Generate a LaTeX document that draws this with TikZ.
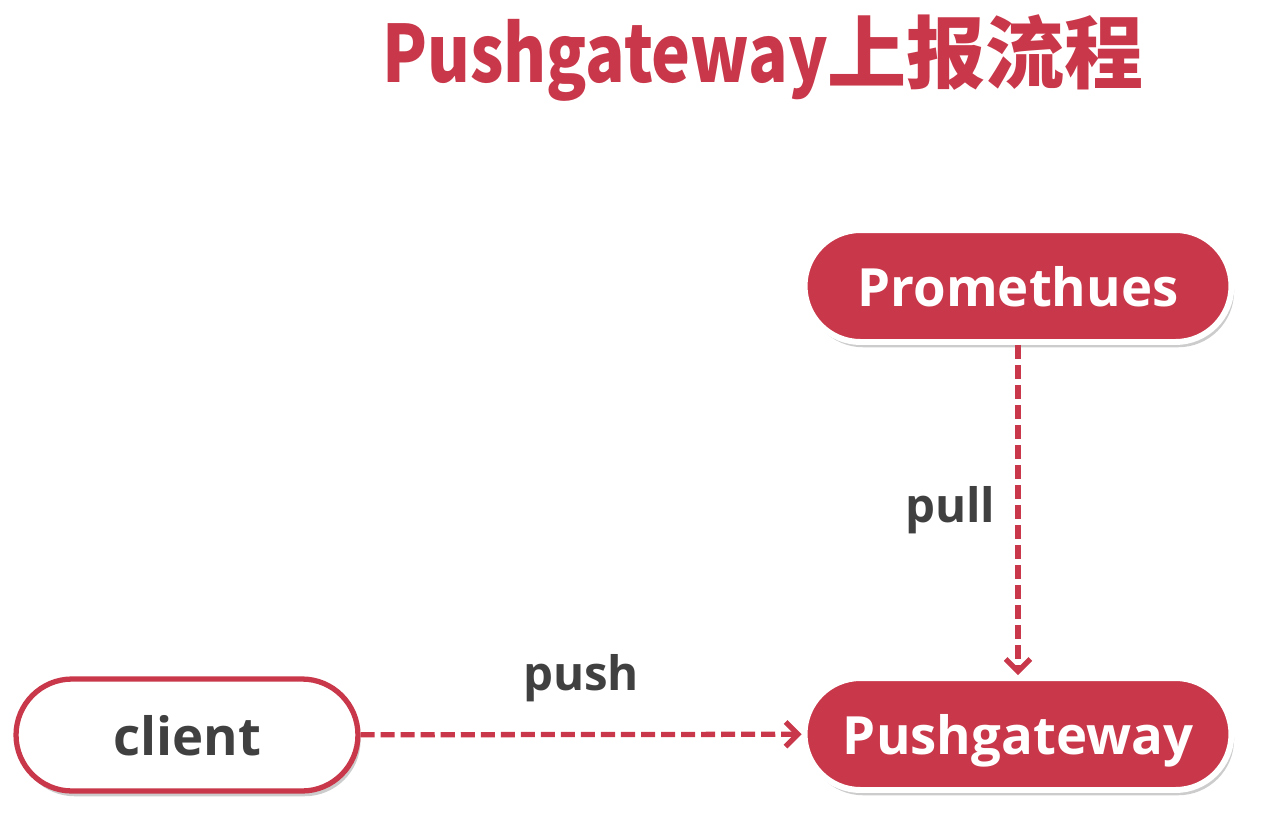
\documentclass[tikz,border=0pt]{standalone}
\usepackage{fontspec}
\setmainfont{Open Sans}
\newfontfamily\cjk{Noto Sans CJK SC}
\usepackage{tikz}
\usetikzlibrary{arrows.meta,shadows}
\definecolor{pgred}{HTML}{C9384A}
\definecolor{pgtext}{HTML}{404040}

\begin{document}
\begin{tikzpicture}[x=0.02cm,y=-0.02cm,>={Straight Barb[length=7pt,width=14pt]},
  box/.style={rounded corners=1.12cm,minimum width=8.54cm,minimum height=2.24cm,
    text depth=0pt,font=\fontsize{30}{36}\selectfont\bfseries,
    drop shadow={opacity=0.4,shadow xshift=1.5pt,shadow yshift=-3pt}},
  redbox/.style={box,fill=pgred,draw=white,line width=3.4pt,text=white},
  whitebox/.style={box,fill=white,draw=pgred,line width=3pt,text=pgtext,minimum width=6.84cm},
  flow/.style={->,pgred,line width=3pt,dash pattern=on 8pt off 3.4pt},
  lbl/.style={text=pgtext,font=\fontsize{27}{32}\selectfont\bfseries}]
\useasboundingbox (0,0) rectangle (1278,829);

% Title
\node[text=pgred,font=\cjk\fontsize{45}{50}\selectfont\bfseries] (title) at (763,58)
  {\scalebox{0.83}[1]{Pushgateway}上报流程};

% Nodes
\node[redbox] (prom) at (1018,286) {Promethues};
\node[redbox] (push) at (1018,734) {Pushgateway};
\node[whitebox] (client) at (187,735) {client};

% Connectors
\draw[flow] (prom) -- (push) node[midway,left=8pt,lbl] {pull};
\draw[flow] (client) -- (push) node[midway,above=14pt,lbl] {push};
\end{tikzpicture}
\end{document}
